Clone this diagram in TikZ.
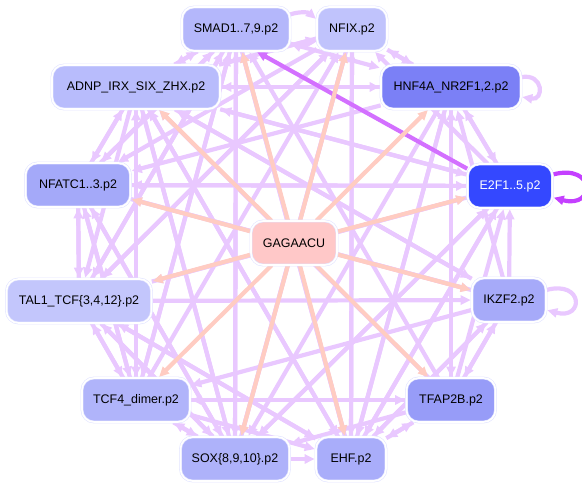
\documentclass[tikz,border=0pt]{standalone}
\usepackage{fontspec}
\setmainfont{Liberation Sans}
\definecolor{edgelav}{RGB}{233,200,255}
\definecolor{edgesalmon}{RGB}{255,204,194}
\definecolor{edgepurple}{RGB}{196,64,255}
\definecolor{boxline}{RGB}{226,228,255}
\definecolor{fillsmad}{RGB}{180,183,251}
\definecolor{fillnfix}{RGB}{192,195,252}
\definecolor{filladnp}{RGB}{184,188,252}
\definecolor{fillhnf}{RGB}{123,128,246}
\definecolor{fillnfatc}{RGB}{164,169,249}
\definecolor{fille}{RGB}{52,72,255}
\definecolor{fillgag}{RGB}{255,200,200}
\definecolor{filltal}{RGB}{195,198,252}
\definecolor{fillikzf}{RGB}{166,170,249}
\definecolor{filltcf}{RGB}{176,180,250}
\definecolor{filltfap}{RGB}{151,156,248}
\definecolor{fillsox}{RGB}{174,178,250}
\definecolor{fillehf}{RGB}{169,173,250}
\usetikzlibrary{arrows.meta,backgrounds}

\begin{document}
\begin{tikzpicture}[x=1bp,y=-1bp,
    tfbox/.style={rounded corners=12bp,draw=boxline,double=white,
      double distance=1.6bp,line width=0.6bp,minimum height=44bp,
      inner sep=6bp,font=\fontsize{12.5}{14}\selectfont},
    tfedge/.style={draw=edgelav,line width=4.2bp,
      -{Triangle[length=10bp,width=9bp]},shorten >=1bp},
    motifedge/.style={tfedge,draw=edgesalmon},
    selfloop/.style={tfedge,looseness=5}]
  \useasboundingbox (0,0) rectangle (582,489);

  % motif in the middle
  \node[tfbox,fill=fillgag,minimum width=86bp] (gag) at (294,243) {GAGAACU};

  % ring of motif clusters
  \node[tfbox,fill=fillsmad,minimum width=108bp] (smad) at (236,29) {SMAD1..7,9.p2};
  \node[tfbox,fill=fillnfix,minimum width=70bp] (nfix) at (352,29) {NFIX.p2};
  \node[tfbox,fill=filladnp,minimum width=168bp] (adnp) at (136,87) {ADNP\_IRX\_SIX\_ZHX.p2};
  \node[tfbox,fill=fillhnf,minimum width=140bp] (hnf) at (451,87) {HNF4A\_NR2F1,2.p2};
  \node[tfbox,fill=fillnfatc,minimum width=105bp] (nfatc) at (78,185) {NFATC1..3.p2};
  \node[tfbox,fill=fille,minimum width=85bp,text=white] (e2f) at (510,186) {E2F1..5.p2};
  \node[tfbox,fill=filltal,minimum width=145bp] (tal) at (79,301) {TAL1\_TCF\{3,4,12\}.p2};
  \node[tfbox,fill=fillikzf,minimum width=74bp] (ikzf) at (509,300) {IKZF2.p2};
  \node[tfbox,fill=filltcf,minimum width=108bp] (tcf) at (136,400) {TCF4\_dimer.p2};
  \node[tfbox,fill=filltfap,minimum width=89bp] (tfap) at (451,400) {TFAP2B.p2};
  \node[tfbox,fill=fillsox,minimum width=109bp] (sox) at (235,459) {SOX\{8,9,10\}.p2};
  \node[tfbox,fill=fillehf,minimum width=70bp] (ehf) at (351,459) {EHF.p2};

  \begin{scope}[on background layer]
    % edges between clusters
    \foreach \a/\b in {adnp/smad,adnp/nfix,adnp/hnf,adnp/nfatc,adnp/e2f,
        adnp/tal,adnp/tcf,adnp/sox,adnp/ehf,adnp/ikzf,
        smad/adnp,smad/nfatc,smad/tal,smad/tcf,smad/sox,smad/ehf,smad/hnf,
        nfix/adnp,nfix/nfatc,nfix/tal,nfix/sox,nfix/ehf,nfix/hnf,
        hnf/nfix,hnf/adnp,hnf/e2f,hnf/sox,hnf/ehf,hnf/tfap,hnf/nfatc,
        nfatc/smad,nfatc/adnp,nfatc/tal,nfatc/e2f,nfatc/ikzf,nfatc/sox,nfatc/tcf,
        e2f/adnp,e2f/nfatc,e2f/tal,e2f/sox,e2f/ehf,e2f/hnf,e2f/nfix,
        tal/smad,tal/nfix,tal/nfatc,tal/tcf,tal/sox,tal/ehf,tal/e2f,tal/ikzf,
        ikzf/hnf,ikzf/e2f,ikzf/tfap,ikzf/ehf,ikzf/tcf,ikzf/adnp,ikzf/nfatc,
        tcf/smad,tcf/nfix,tcf/adnp,tcf/nfatc,tcf/tal,tcf/sox,tcf/ehf,tcf/tfap,
        tfap/ikzf,tfap/e2f,tfap/hnf,tfap/sox,tfap/ehf,tfap/tcf,tfap/adnp,tfap/smad,
        sox/smad,sox/nfix,sox/adnp,sox/nfatc,sox/ehf,sox/tal,sox/tcf,sox/e2f,
        ehf/smad,ehf/nfix,ehf/tfap,ehf/ikzf,ehf/adnp,ehf/tal,ehf/hnf,ehf/e2f}
      \draw[tfedge] (\a) -- (\b);
    \draw[tfedge] (smad.15) to[bend left=30] (nfix.165);
    \draw[tfedge] (nfix.195) to[bend left=30] (smad.-15);

    % self loops
    \draw[selfloop,looseness=3] (hnf.8) to[out=10,in=-10] (hnf.-8);
    \draw[selfloop] (ikzf.15) to[out=15,in=-15] (ikzf.-15);
    \draw[selfloop,draw=edgepurple] (e2f.15) to[out=15,in=-15] (e2f.-15);
    \draw[tfedge,draw=edgepurple!75] (e2f.158) -- (smad.-48);

    % edges from the motif
    \foreach \t in {smad,nfix,adnp,hnf,nfatc,e2f,tal,ikzf,tcf,tfap,sox,ehf}
      \draw[motifedge] (gag) -- (\t);
  \end{scope}
\end{tikzpicture}
\end{document}
